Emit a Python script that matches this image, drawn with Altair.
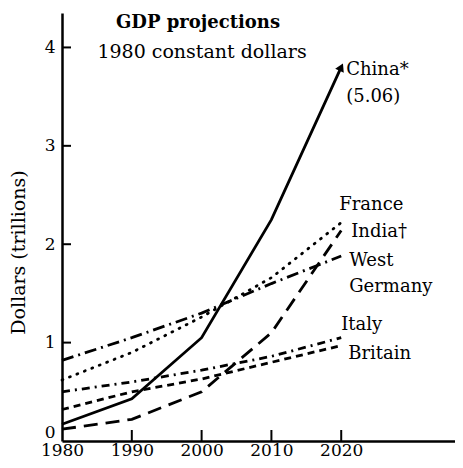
import altair as alt
import pandas as pd

years = [1980, 1990, 2000, 2010, 2020]
china = [0.17, 0.43, 1.05, 2.25, 3.80]
france = [0.62, 0.90, 1.26, 1.66, 2.22]
west_germany = [0.82, 1.05, 1.30, 1.60, 1.88]
india = [0.12, 0.22, 0.50, 1.10, 2.14]
italy = [0.50, 0.60, 0.72, 0.86, 1.05]
britain = [0.32, 0.50, 0.63, 0.80, 0.97]

series_names = ["China", "France", "West Germany", "India", "Italy", "Britain"]
series_values = [china, france, west_germany, india, italy, britain]

x_ticks = [1980, 1990, 2000, 2010, 2020]
y_ticks = [0, 1, 2, 3, 4]

rows = []
for name, vals in zip(series_names, series_values):
    for yr, v in zip(years, vals):
        rows.append({"series": name, "year": yr, "value": v})
df = pd.DataFrame(rows)

W, H = 393, 428
FONT = "DejaVu Serif"

xscale = alt.Scale(domain=[1980, 2036.3], nice=False, zero=False)
yscale = alt.Scale(domain=[0, 4.35], nice=False)

xenc = alt.X("year:Q", scale=xscale,
             axis=alt.Axis(values=x_ticks, format="d", ticks=False, grid=False,
                           domainWidth=2.5, domainColor="black", labelFont=FONT,
                           labelFontSize=17, labelColor="black", labelPadding=1,
                           title=None, labelFlush=False))
yenc = alt.Y("value:Q", scale=yscale,
             axis=alt.Axis(values=y_ticks, ticks=False, grid=False,
                           domainWidth=2.5, domainColor="black", labelFont=FONT,
                           labelFontSize=17, labelColor="black", labelPadding=7,
                           labelOffset={"condition": {"test": "datum.value == 0", "value": -9}, "value": 0},
                           title="Dollars (trillions)", titleFont=FONT,
                           titleFontSize=19, titleFontWeight="normal",
                           titleColor="black", titleX=-44, titleY=239,
                           titleAlign="center", titleBaseline="middle",
                           titleAngle=270))

styles = {
    "China": dict(strokeWidth=2.8),
    "France": dict(strokeWidth=2.8, strokeDash=[1, 7], strokeCap="round"),
    "West Germany": dict(strokeWidth=2.8, strokeDash=[12, 5, 2, 5]),
    "India": dict(strokeWidth=2.8, strokeDash=[14, 8]),
    "Italy": dict(strokeWidth=2.8, strokeDash=[8, 5, 2, 5]),
    "Britain": dict(strokeWidth=2.8, strokeDash=[7, 5]),
}

layers = []
for name in series_names:
    layers.append(
        alt.Chart(df).transform_filter(alt.datum.series == name)
        .mark_line(color="black", **styles[name])
        .encode(x=xenc, y=yenc)
    )

ends = pd.DataFrame({"series": series_names,
                     "year": [years[-1]] * len(series_names),
                     "value": [v[-1] for v in series_values]})

# arrowhead on China
layers.append(
    alt.Chart(ends).transform_filter(alt.datum.series == "China")
    .mark_point(shape="triangle-up", angle=25, size=90, filled=True,
                color="black", opacity=1)
    .encode(x=xenc, y=yenc)
)

labels = [
    ("China", "China*", 5, 3),
    ("China", "(5.06)", 5, 30),
    ("France", "France", -2, -18),
    ("India", "India\u2020", 10, 2),
    ("West Germany", "West", 8, 5),
    ("West Germany", "Germany", 8, 31),
    ("Italy", "Italy", 0, -13),
    ("Britain", "Britain", 7, 8),
]
for s, txt, dx, dy in labels:
    layers.append(
        alt.Chart(ends).transform_filter(alt.datum.series == s)
        .mark_text(text=txt, align="left", baseline="middle", dx=dx, dy=dy,
                   font=FONT, fontSize=18, color="black")
        .encode(x=xenc, y=yenc)
    )

# inward tick marks
ytick_df = pd.DataFrame({"value": y_ticks[1:]})
layers.append(
    alt.Chart(ytick_df).mark_rule(color="black", strokeWidth=2)
    .encode(y=yenc, x=alt.value(0), x2=alt.value(9))
)
xtick_df = pd.DataFrame({"year": x_ticks[1:]})
layers.append(
    alt.Chart(xtick_df).mark_rule(color="black", strokeWidth=2)
    .encode(x=xenc, y=alt.value(H), y2=alt.value(H - 11))
)

# titles
layers.append(
    alt.Chart(pd.DataFrame({"t": [0]})).mark_text(
        text="GDP projections", font=FONT, fontSize=18, fontWeight="bold",
        align="center", baseline="middle", color="black")
    .encode(x=alt.value(136), y=alt.value(10))
)
layers.append(
    alt.Chart(pd.DataFrame({"t": [0]})).mark_text(
        text="1980 constant dollars", font=FONT, fontSize=19,
        align="center", baseline="middle", color="black")
    .encode(x=alt.value(140), y=alt.value(39))
)

chart = alt.layer(*layers).properties(
    width=W, height=H, autosize="none",
    padding={"left": 54, "top": 5, "right": 0, "bottom": 19},
    background="white",
).configure_view(stroke=None)

chart.save("out.html", embed_options={"renderer": "svg", "actions": False})
